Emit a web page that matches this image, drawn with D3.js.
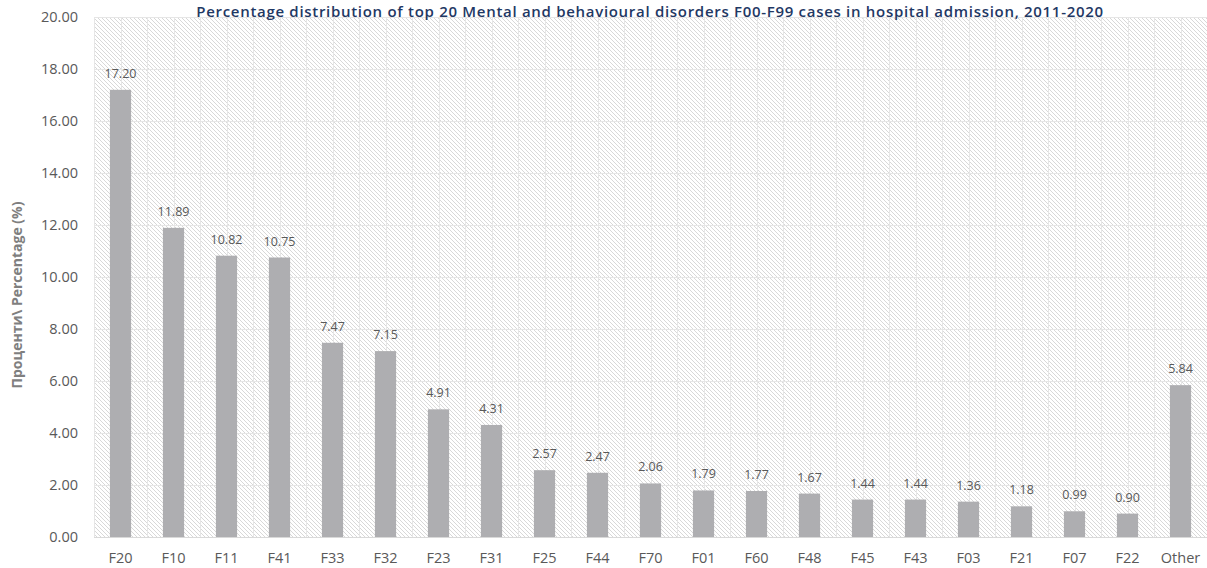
<!DOCTYPE html>
<html>
<head>
<meta charset="utf-8">
<script src="https://cdn.jsdelivr.net/npm/d3@7"></script>
<style>
  html, body { margin: 0; padding: 0; background: #ffffff; }
  svg { display: block; }
  text { font-family: "Open Sans", "Noto Sans", sans-serif; }
</style>
</head>
<body>
<svg id="chart" width="1207" height="568"></svg>
<script>
// Diagnosis codes, percentage of hospital admissions, and value-axis ticks
const categories = ["F20","F10","F11","F41","F33","F32","F23","F31","F25","F44","F70","F01","F60","F48","F45","F43","F03","F21","F07","F22","Other"];
const percentages = [17.20, 11.89, 10.82, 10.75, 7.47, 7.15, 4.91, 4.31, 2.57, 2.47, 2.06, 1.79, 1.77, 1.67, 1.44, 1.44, 1.36, 1.18, 0.99, 0.90, 5.84];
const yTicks = [0, 2, 4, 6, 8, 10, 12, 14, 16, 18, 20];

const titleText = "Percentage distribution of top 20 Mental and behavioural disorders F00-F99 cases in hospital admission, 2011-2020";
const yAxisTitle = "Проценти\\ Percentage (%)";

const svg = d3.select("#chart");
const margin = { left: 94, right: 0, top: 17, bottom: 31 };
const W = 1207, H = 568;

const x = d3.scaleBand()
  .domain(categories)
  .range([margin.left, W - margin.right])
  .paddingInner(0.6)
  .paddingOuter(0.3);

const xBand = d3.scaleBand()
  .domain(categories)
  .range([margin.left, W - margin.right]);

const y = d3.scaleLinear()
  .domain([0, 20])
  .range([H - margin.bottom, margin.top]);

// Diagonal hatch fill for the plot area
const defs = svg.append("defs");
const pat = defs.append("pattern")
  .attr("id", "hatch")
  .attr("patternUnits", "userSpaceOnUse")
  .attr("width", 4).attr("height", 4);
pat.append("path")
  .attr("d", "M0,0 L4,4 M-1,3 L1,5 M3,-1 L5,1")
  .attr("stroke", "#d8d8d8")
  .attr("stroke-width", 1)
  .attr("shape-rendering", "crispEdges");

const plotLeft = margin.left, plotRight = W - margin.right;
const plotTop = y(20), plotBottom = y(0);

svg.append("rect")
  .attr("x", plotLeft).attr("y", plotTop)
  .attr("width", plotRight - plotLeft).attr("height", plotBottom - plotTop)
  .attr("fill", "url(#hatch)");

// Gridlines
const grid = svg.append("g").attr("stroke", "#e6e6e6").attr("stroke-width", 1);
grid.selectAll("line.h")
  .data(yTicks)
  .join("line")
  .attr("class", "h")
  .attr("x1", plotLeft).attr("x2", plotRight)
  .attr("y1", d => Math.round(y(d)) + 0.5).attr("y2", d => Math.round(y(d)) + 0.5);

// vertical lines at category boundaries and centres
const vPositions = [];
categories.forEach(c => {
  vPositions.push(xBand(c));
  vPositions.push(xBand(c) + xBand.bandwidth() / 2);
});
grid.selectAll("line.v")
  .data(vPositions)
  .join("line")
  .attr("class", "v")
  .attr("x1", d => Math.round(d) + 0.5).attr("x2", d => Math.round(d) + 0.5)
  .attr("y1", plotTop).attr("y2", plotBottom);

// Bars
svg.append("g")
  .selectAll("rect")
  .data(categories)
  .join("rect")
  .attr("x", (d) => x(d))
  .attr("width", x.bandwidth())
  .attr("y", (d, i) => y(percentages[i]))
  .attr("height", (d, i) => y(0) - y(percentages[i]))
  .attr("fill", "#aeaeb1");

// Category axis line
svg.append("line")
  .attr("x1", plotLeft).attr("x2", plotRight)
  .attr("y1", Math.round(y(0)) + 0.5).attr("y2", Math.round(y(0)) + 0.5)
  .attr("stroke", "#d9d9d9").attr("stroke-width", 1);

// Data labels
svg.append("g")
  .selectAll("text")
  .data(categories)
  .join("text")
  .attr("x", d => x(d) + x.bandwidth() / 2)
  .attr("y", (d, i) => y(percentages[i]) - 12)
  .attr("text-anchor", "middle")
  .attr("font-size", 12.5)
  .attr("fill", "#595959")
  .text((d, i) => percentages[i].toFixed(2));

// Value axis
const yAxis = d3.axisLeft(y).tickValues(yTicks).tickFormat(d3.format(".2f")).tickSize(0).tickPadding(0);
const yG = svg.append("g").attr("transform", `translate(78,0)`).call(yAxis);
yG.select(".domain").remove();
yG.selectAll("text").attr("font-size", 14.5).attr("fill", "#595959")
  .attr("font-family", "'Open Sans', sans-serif");

// Category axis
const xAxis = d3.axisBottom(xBand).tickSize(0).tickPadding(0);
const xG = svg.append("g").attr("transform", `translate(0,${H - 15})`).call(xAxis);
xG.select(".domain").remove();
xG.selectAll("text").attr("font-size", 14.5).attr("fill", "#595959")
  .attr("font-family", "'Open Sans', sans-serif");

// Axis title
svg.append("text")
  .attr("transform", `translate(22,${(plotTop + plotBottom) / 2 + 18}) rotate(-90)`)
  .attr("text-anchor", "middle")
  .attr("font-size", 14)
  .attr("font-weight", "bold")
  .attr("fill", "#7f7f7f")
  .text(yAxisTitle);

// Chart title
svg.append("text")
  .attr("x", 650)
  .attr("y", 16.5)
  .attr("text-anchor", "middle")
  .attr("font-size", 15)
  .attr("letter-spacing", 0.7)
  .attr("font-weight", 600)
  .attr("fill", "#1f3864")
  .text(titleText);
</script>
</body>
</html>
